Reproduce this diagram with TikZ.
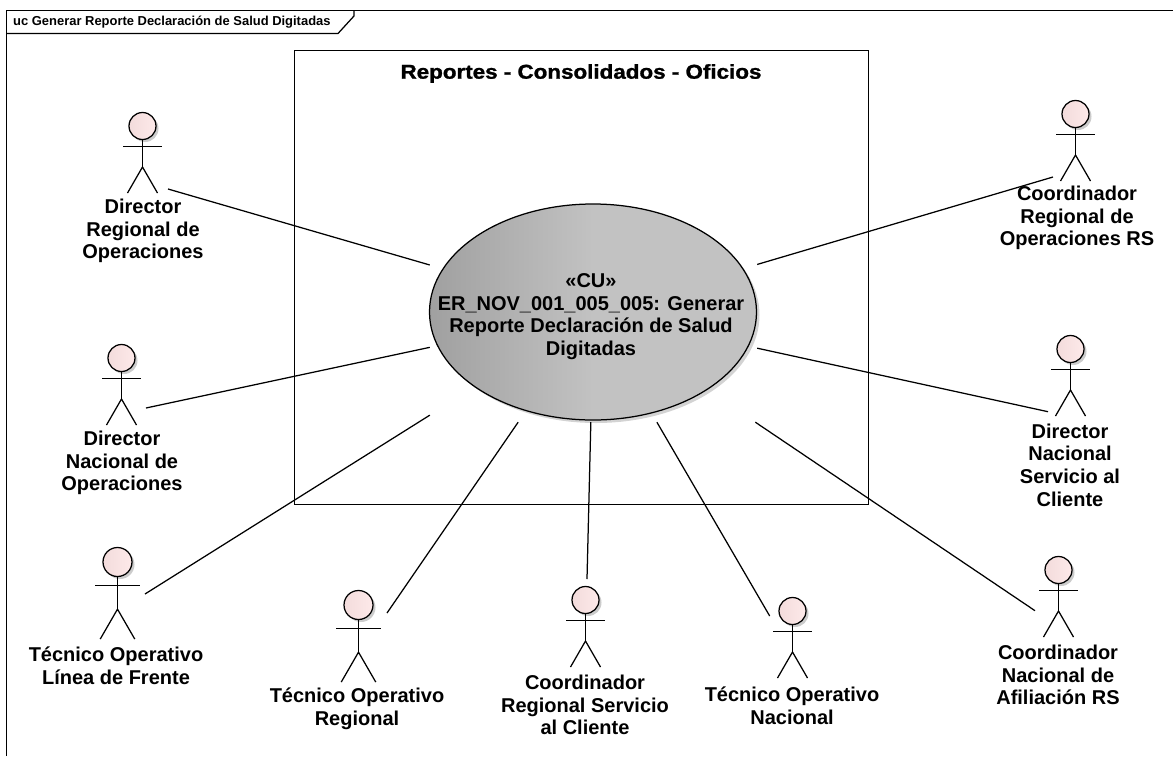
\documentclass[tikz,border=0pt]{standalone}
\usepackage{fontspec}
\setmainfont{Liberation Sans}
\newfontfamily\titlefont[BoldFeatures={FakeBold=1.2}]{Liberation Sans}
\usetikzlibrary{shapes.geometric,shadows}

\definecolor{headleft}{HTML}{F3DCDC}
\definecolor{headright}{HTML}{FDE9E9}
\definecolor{caseleft}{HTML}{A0A0A0}
\definecolor{caseright}{HTML}{C2C2C2}

\tikzset{
  thinline/.style={line width=1.25pt,black},
  frameline/.style={line width=1.5pt,black},
  actorhead/.style={circle,draw,thinline,inner sep=0pt,minimum size=27pt,left color=headleft,right color=headright,
    drop shadow={shadow xshift=2.5pt,shadow yshift=-2.5pt,opacity=.4}},
  bighead/.style={actorhead,minimum size=29pt},
  actorlabel/.style={align=center,inner sep=0pt,font=\fontsize{20}{22.7}\selectfont\bfseries},
  casebox/.style={rectangle,inner sep=0pt,minimum width=327pt,minimum height=219pt}
}

% stick figure below a head node: name, scale
\newcommand{\actorbody}[2]{
  \draw[thinline,shift={(#1.center)},scale=#2] (#1.south) -- (0,41);
  \draw[thinline,shift={(#1.center)},scale=#2] (-19.5,20.5) -- (19.5,20.5);
  \draw[thinline,shift={(#1.center)},scale=#2] (-15,67) -- (0,41) -- (15,67);
}

\begin{document}
\begin{tikzpicture}[x=1pt,y=-1pt]
  \useasboundingbox (0,0) rectangle (1173,756);
  % draw diagram frame and its tab
  \coordinate (framebottom) at (6.5,756);
  \coordinate (frametop) at (6.5,10.5);
  \coordinate (frameright) at (1173,10.5);
  \draw [frameline](framebottom) -- (frametop) -- (frameright);
  \coordinate (tableft) at (6.5,33.5);
  \coordinate (tabbend) at (338,33.5);
  \coordinate (tabslant) at (354,16);
  \coordinate (tabtop) at (354,10.5);
  \draw [thinline](tableft) -- (tabbend) -- (tabslant) -- (tabtop);
  \node at(13,22.5)[anchor=west,inner sep=0pt,font=\fontsize{12.95}{15}\selectfont\bfseries](frametitle){uc Generar Reporte Declaración de Salud Digitadas};
  % draw system boundary
  \node at(581.5,277.5)[rectangle,draw,frameline,minimum width=574pt,minimum height=454pt](system){};
  \node at(581,73.5)[inner sep=0pt,xscale=1.12,transform shape,font=\fontsize{20}{23}\selectfont\titlefont\bfseries](systemtitle){Reportes - Consolidados - Oficios};
  % draw use case
  \node at(593,312)[ellipse,draw,thinline,inner sep=0pt,minimum width=327pt,minimum height=216pt,left color=caseleft,right color=caseright,middle color=caseright,
    drop shadow={shadow xshift=3pt,shadow yshift=-3pt,opacity=.35}](case){};
  \node at(591,316.5)[actorlabel](casetext){«CU»\\ER\_NOV\_001\_005\_005: Generar\\Reporte Declaración de Salud\\Digitadas};
  \node at(593.5,312.5)[casebox](casearea){};
  % draw actors
  \node at(142.5,126)[actorhead](dro){};
  \actorbody{dro}{1}
  \node at(143,231)[actorlabel](drotext){Director\\Regional de\\Operaciones};
  \node at(121.5,358)[actorhead](dno){};
  \actorbody{dno}{1}
  \node at(122,463)[actorlabel](dnotext){Director\\Nacional de\\Operaciones};
  \node at(117.5,562)[bighead](tlf){};
  \actorbody{tlf}{1.15}
  \node at(116,666)[actorlabel](tlftext){Técnico Operativo\\Línea de Frente};
  \node at(358.5,605)[bighead](tor){};
  \actorbody{tor}{1.15}
  \node at(357,709)[actorlabel](tortext){Técnico Operativo\\Regional};
  \node at(585.5,600)[actorhead](crs){};
  \actorbody{crs}{1}
  \node at(585,705)[actorlabel](crstext){Coordinador\\Regional Servicio\\al Cliente};
  \node at(792.5,611)[actorhead](ton){};
  \actorbody{ton}{1}
  \node at(792,706)[actorlabel](tontext){Técnico Operativo\\Nacional};
  \node at(1058.5,570)[actorhead](cna){};
  \actorbody{cna}{1}
  \node at(1058,675)[actorlabel](cnatext){Coordinador\\Nacional de\\Afiliación RS};
  \node at(1070.5,349)[actorhead](dns){};
  \actorbody{dns}{1}
  \node at(1070,465)[actorlabel](dnstext){Director\\Nacional\\Servicio al\\Cliente};
  \node at(1075.5,114)[actorhead](cro){};
  \actorbody{cro}{1}
  \node at(1077,218)[actorlabel](crotext){Coordinador\\Regional de\\Operaciones RS};
  % draw links from actors to use case
  \coordinate (drolink) at (168,189);
  \draw [thinline](drolink) -- (casearea);
  \coordinate (dnolink) at (146,408);
  \draw [thinline](dnolink) -- (casearea);
  \coordinate (tlflink) at (145,594);
  \draw [thinline](tlflink) -- (casearea);
  \coordinate (torlink) at (387,613);
  \draw [thinline](torlink) -- (casearea);
  \coordinate (crslink) at (587,579);
  \draw [thinline](crslink) -- (casearea);
  \coordinate (tonlink) at (769.7,616);
  \draw [thinline](tonlink) -- (casearea);
  \coordinate (cnalink) at (1035,610.7);
  \draw [thinline](cnalink) -- (casearea);
  \coordinate (dnslink) at (1048,411.7);
  \draw [thinline](dnslink) -- (casearea);
  \coordinate (crolink) at (1053,177);
  \draw [thinline](crolink) -- (casearea);
\end{tikzpicture}
\end{document}
